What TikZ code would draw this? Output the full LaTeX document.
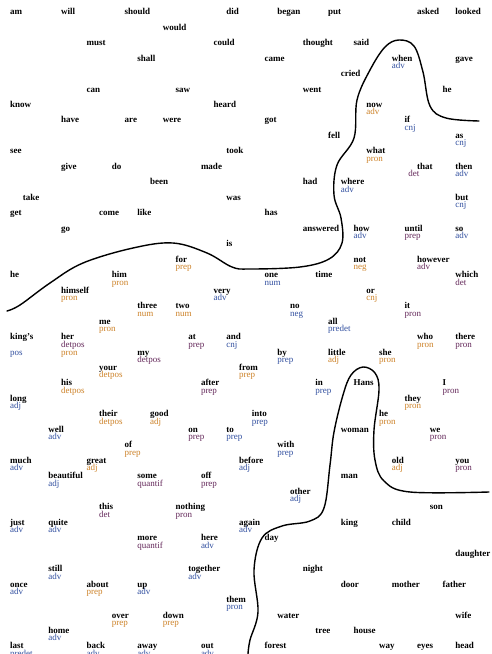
\documentclass[tikz,border=0pt]{standalone}
\usepackage{fontspec}
\setmainfont{Liberation Serif}
\definecolor{cb}{RGB}{50,80,160}
\definecolor{co}{RGB}{205,130,40}
\definecolor{cp}{RGB}{100,40,90}
\tikzset{
  wd/.style={anchor=base west,inner sep=0pt,font=\bfseries\fontsize{9}{9}\selectfont},
  lb/.style={anchor=base west,inner sep=0pt,font=\fontsize{9}{9}\selectfont},
  bound/.style={line width=1.4pt,line cap=round,line join=round}
}
\newcommand\Wd[4]{\node[wd] (#1) at ({10+12.72*(#2)},{14.7+15.47*(#3)}) {#4};}
\newcommand\Lb[5]{\node[lb,text=#4] (#1) at ({10+12.72*(#2)},{14.7+15.47*(#3)}) {#5};}
\newcommand\Wl[6]{\Wd{#1}{#2}{#3}{#4}\Lb{#1l}{#2}{#3+0.48}{#5}{#6}}
\begin{document}
\begin{tikzpicture}[x=1pt,y=-1pt]
\fill[white] (0,0) rectangle (492,654);
\useasboundingbox (0,0) rectangle (492,654);
% row 0
\Wd{am}{0}{0}{am}\Wd{will}{4}{0}{will}\Wd{should}{9}{0}{should}\Wd{did}{17}{0}{did}
\Wd{began}{21}{0}{began}\Wd{put}{25}{0}{put}\Wd{asked}{32}{0}{asked}\Wd{looked}{35}{0}{looked}
\Wd{would}{12}{1}{would}
\Wd{must}{6}{2}{must}\Wd{could}{16}{2}{could}\Wd{thought}{23}{2}{thought}\Wd{said}{27}{2}{said}
\Wd{shall}{10}{3}{shall}\Wd{came}{20}{3}{came}\Wl{when}{30}{3}{when}{cb}{adv}\Wd{gave}{35}{3}{gave}
\Wd{cried}{26}{4}{cried}
\Wd{can}{6}{5}{can}\Wd{saw}{13}{5}{saw}\Wd{went}{23}{5}{went}\Wd{heA}{34}{5}{he}
\Wd{know}{0}{6}{know}\Wd{heard}{16}{6}{heard}\Wl{now}{28}{6}{now}{co}{adv}
\Wd{have}{4}{7}{have}\Wd{are}{9}{7}{are}\Wd{were}{12}{7}{were}\Wd{got}{20}{7}{got}\Wl{if}{31}{7}{if}{cb}{cnj}
\Wd{fell}{25}{8}{fell}\Wl{as}{35}{8}{as}{cb}{cnj}
\Wd{see}{0}{9}{see}\Wd{took}{17}{9}{took}\Wl{what}{28}{9}{what}{co}{pron}
\Wd{give}{4}{10}{give}\Wd{do}{8}{10}{do}\Wd{made}{15}{10}{made}\Wd{that}{32}{10}{that}\Lb{thatl}{31.3}{10.48}{cp}{det}\Wl{then}{35}{10}{then}{cb}{adv}
\Wd{been}{11}{11}{been}\Wd{had}{23}{11}{had}\Wl{where}{26}{11}{where}{cb}{adv}
\Wd{take}{1}{12}{take}\Wd{was}{17}{12}{was}\Wl{but}{35}{12}{but}{cb}{cnj}
\Wd{get}{0}{13}{get}\Wd{come}{7}{13}{come}\Wd{like}{10}{13}{like}\Wd{has}{20}{13}{has}
\Wd{go}{4}{14}{go}\Wd{answered}{23}{14}{answered}\Wl{how}{27}{14}{how}{cb}{adv}\Wl{until}{31}{14}{until}{cp}{prep}\Wl{so}{35}{14}{so}{cb}{adv}
\Wd{is}{17}{15}{is}
\Wl{for}{13}{16}{for}{co}{prep}\Wl{not}{27}{16}{not}{co}{neg}\Wl{however}{32}{16}{however}{cp}{adv}
\Wd{heB}{0}{17}{he}\Wl{him}{8}{17}{him}{co}{pron}\Wl{one}{20}{17}{one}{cb}{num}\Wd{time}{24}{17}{time}\Wl{which}{35}{17}{which}{cp}{det}
\Wl{himself}{4}{18}{himself}{co}{pron}\Wl{very}{16}{18}{very}{cb}{adv}\Wl{or}{28}{18}{or}{co}{cnj}
\Wl{three}{10}{19}{three}{co}{num}\Wl{two}{13}{19}{two}{co}{num}\Wl{no}{22}{19}{no}{cb}{neg}\Wl{it}{31}{19}{it}{cp}{pron}
\Wl{me}{7}{20}{me}{co}{pron}\Wl{all}{25}{20}{all}{cb}{predet}
\Wd{kings}{0}{21}{king's}\Lb{kingsl}{0}{22}{cb}{pos}
\Wl{her}{4}{21}{her}{cp}{detpos}\Lb{herm}{4}{22}{co}{pron}
\Wl{at}{14}{21}{at}{cp}{prep}\Wl{and}{17}{21}{and}{cb}{cnj}\Wl{who}{32}{21}{who}{co}{pron}\Wl{there}{35}{21}{there}{cp}{pron}
\Wl{my}{10}{22}{my}{cp}{detpos}\Wl{by}{21}{22}{by}{cb}{prep}\Wl{little}{25}{22}{little}{co}{adj}\Wl{she}{29}{22}{she}{co}{pron}
\Wl{your}{7}{23}{your}{co}{detpos}\Wl{from}{18}{23}{from}{co}{prep}
\Wl{his}{4}{24}{his}{co}{detpos}\Wl{after}{15}{24}{after}{cp}{prep}\Wl{in}{24}{24}{in}{cb}{prep}\Wd{Hans}{27}{24}{Hans}\Wl{I}{34}{24}{I}{cp}{pron}
\Wl{long}{0}{25}{long}{cb}{adj}\Wl{they}{31}{25}{they}{co}{pron}
\Wl{their}{7}{26}{their}{co}{detpos}\Wl{good}{11}{26}{good}{co}{adj}\Wl{into}{19}{26}{into}{cb}{prep}\Wl{heC}{29}{26}{he}{co}{pron}
\Wl{well}{3}{27}{well}{cb}{adv}\Wl{on}{14}{27}{on}{cp}{prep}\Wl{to}{17}{27}{to}{cb}{prep}\Wd{woman}{26}{27}{woman}\Wl{we}{33}{27}{we}{cp}{pron}
\Wl{of}{9}{28}{of}{co}{prep}\Wl{with}{21}{28}{with}{cb}{prep}
\Wl{much}{0}{29}{much}{cb}{adv}\Wl{great}{6}{29}{great}{co}{adj}\Wl{before}{18}{29}{before}{cb}{adj}\Wl{old}{30}{29}{old}{co}{adj}\Wl{you}{35}{29}{you}{cp}{pron}
\Wl{beautiful}{3}{30}{beautiful}{cb}{adj}\Wl{some}{10}{30}{some}{cp}{quantif}\Wl{off}{15}{30}{off}{cp}{prep}\Wd{man}{26}{30}{man}
\Wl{other}{22}{31}{other}{cb}{adj}
\Wl{this}{7}{32}{this}{cp}{det}\Wl{nothing}{13}{32}{nothing}{cp}{pron}\Wd{son}{33}{32}{son}
\Wl{just}{0}{33}{just}{cb}{adv}\Wl{quite}{3}{33}{quite}{cb}{adv}\Wl{again}{18}{33}{again}{cb}{adv}\Wd{king}{26}{33}{king}\Wd{child}{30}{33}{child}
\Wl{more}{10}{34}{more}{cp}{quantif}\Wl{here}{15}{34}{here}{cb}{adv}\Wd{day}{20}{34}{day}
\Wd{daughter}{35}{35}{daughter}
\Wl{still}{3}{36}{still}{cb}{adv}\Wl{together}{14}{36}{together}{cb}{adv}\Wd{night}{23}{36}{night}
\Wl{once}{0}{37}{once}{cb}{adv}\Wl{about}{6}{37}{about}{co}{prep}\Wl{up}{10}{37}{up}{cb}{adv}\Wd{door}{26}{37}{door}\Wd{mother}{30}{37}{mother}\Wd{father}{34}{37}{father}
\Wl{them}{17}{38}{them}{cb}{pron}
\Wl{over}{8}{39}{over}{co}{prep}\Wl{down}{12}{39}{down}{co}{prep}\Wd{water}{21}{39}{water}\Wd{wife}{35}{39}{wife}
\Wl{home}{3}{40}{home}{cb}{adv}\Wd{tree}{24}{40}{tree}\Wd{house}{27}{40}{house}
\Wl{last}{0}{41}{last}{cb}{predet}\Wl{back}{6}{41}{back}{cb}{adv}\Wl{away}{10}{41}{away}{cb}{adv}\Wl{out}{15}{41}{out}{cb}{adv}
\Wd{forest}{20}{41}{forest}\Wd{way}{29}{41}{way}\Wd{eyes}{32}{41}{eyes}\Wd{head}{35}{41}{head}
% boundaries
\draw[bound] plot[smooth,tension=0.6] coordinates {(479,121) (446,118) (430,106) (423,72) (414,46) (399,40) (385,47) (370,70) (357,100) (354,138) (337,165) (334,195) (341,218) (342,243) (329,259) (300,267) (250,269) (232,267) (207,253) (173,243) (133,248) (83,263) (50,283) (20,305) (7,311)};
\draw[bound] plot[smooth,tension=0.6] coordinates {(248,654) (250,640) (258,612) (254,570) (262,538) (282,526) (310,521) (324,508) (330,465) (334,432) (343,395) (351,375) (363,367) (375,373) (379,390) (374,430) (375,460) (384,481) (410,492) (489,492)};
\end{tikzpicture}
\end{document}
